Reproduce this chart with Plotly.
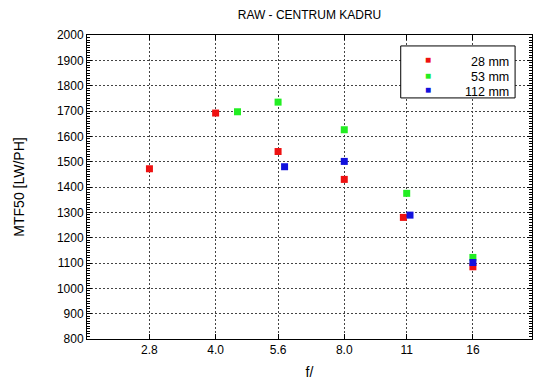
import plotly.graph_objects as go

# Data
f28 = [2.8, 4.0, 5.6, 8.0, 11.0, 16.0]
v28 = [1472, 1692, 1540, 1430, 1280, 1085]
f53 = [4.5, 5.6, 8.0, 11.2, 16.0]
v53 = [1697, 1735, 1626, 1375, 1122]
f112 = [5.8, 8.0, 11.4, 16.0]
v112 = [1480, 1501, 1289, 1102]

xtick_vals = [2.8, 4.0, 5.6, 8.0, 11.2, 16.0]
xtick_text = ["2.8", "4.0", "5.6", "8.0", "11", "16"]

names = ["28 mm", "53 mm", "112 mm"]
colors = ["#ee1111", "#22ee22", "#1111dd"]
xs = [f28, f53, f112]
ys = [v28, v53, v112]

fig = go.Figure()
for name, x, y, c in zip(names, xs, ys, colors):
    fig.add_trace(go.Scatter(x=x, y=y, mode="markers", name=name, showlegend=False,
                             marker=dict(symbol="square", size=7, color=c,
                                         line=dict(width=0))))

# Legend box (drawn like the reference: marker left, text right-aligned)
fig.add_shape(type="rect", xref="paper", yref="paper",
              x0=0.705, x1=0.962, y0=0.793, y1=0.964,
              line=dict(color="black", width=1), fillcolor="white", layer="above")
row_y = [0.9178, 0.8684, 0.8191]
for c, ry in zip(colors, row_y):
    fig.add_annotation(xref="paper", yref="paper", x=0.766, y=ry, text="\u25a0",
                       showarrow=False, xanchor="center", yanchor="middle",
                       font=dict(size=10, color=c))
fig.add_annotation(xref="paper", yref="paper", x=0.953, y=0.862,
                   text="<br>".join(f'<span style="font-size:12.5px">{n}</span>' for n in names),
                   align="right",
                   showarrow=False, xanchor="right", yanchor="middle",
                   font=dict(size=11.6, color="black"))

font = dict(family="Liberation Sans, Arial, sans-serif", size=12, color="black")
fig.update_layout(
    width=542, height=381,
    margin=dict(l=79, r=18, t=27, b=50),
    paper_bgcolor="white", plot_bgcolor="white",
    font=font,
    title=dict(text="RAW - CENTRUM KADRU", x=0.5563, xanchor="center", y=0.9816,
               yanchor="middle", font=dict(size=12)),
    showlegend=False,
)
fig.update_xaxes(
    type="log", range=[0.30103, 1.34242], automargin=False,
    tickvals=xtick_vals, ticktext=xtick_text,
    ticks="inside", ticklen=5, tickcolor="black",
    showline=True, linecolor="black", linewidth=1, mirror="ticks",
    showgrid=True, gridcolor="#444", griddash="2px,2px", gridwidth=1,
    zeroline=False,
    title=dict(text="f/", standoff=10),
)
fig.update_yaxes(
    range=[800, 2000], dtick=100, automargin=False,
    ticks="inside", ticklen=5, tickcolor="black",
    minor=dict(ticks="inside", dtick=10, ticklen=3, tickcolor="black", showgrid=False),
    showline=True, linecolor="black", linewidth=1, mirror="ticks",
    showgrid=True, gridcolor="#444", griddash="2px,2px", gridwidth=1,
    zeroline=False,
    title=dict(text="MTF50 [LW/PH]", standoff=28),
)
fig.write_html("out.html")
